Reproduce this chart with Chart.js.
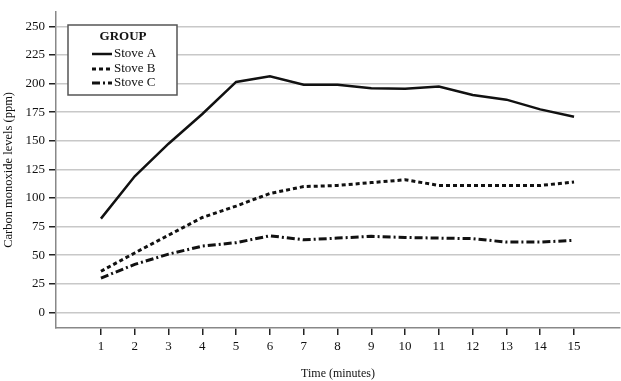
<!DOCTYPE html>
<html>
<head>
<meta charset="utf-8">
<script src="https://cdn.jsdelivr.net/npm/chart.js@4/dist/chart.umd.min.js"></script>
<style>
html,body{margin:0;padding:0;background:#fff;}
#wrap{width:621px;height:381px;position:relative;}
</style>
</head>
<body>
<div id="wrap"><canvas id="c" width="621" height="381"></canvas></div>
<script>
const minutes = [1,2,3,4,5,6,7,8,9,10,11,12,13,14,15];
const stoveA = [82,119,147.5,173.5,201.5,206.5,199,199,196,195.5,197.5,190,186,177.5,171];
const stoveB = [36,52,67.5,83,93,104,110,111,113.5,116,111,111,111,111,114];
const stoveC = [30,42,51,58,61,67,63.5,65,66.5,65.5,65,64.5,61.5,61.5,63];
const seriesNames = ['Stove A','Stove B','Stove C'];
const yTicks = [0,25,50,75,100,125,150,175,200,225,250];
const legendTitle = 'GROUP';

const FONT = "'Liberation Serif', 'Times New Roman', serif";

const toPts = arr => arr.map((v,i)=>({x:minutes[i], y:v}));

const legendPlugin = {
  id:'customLegend',
  afterDraw(chart){
    const ctx = chart.ctx;
    ctx.save();
    const x0=68, y0=25, w=109, h=70;
    ctx.fillStyle='#fff';
    ctx.fillRect(x0,y0,w,h);
    ctx.strokeStyle='#555';
    ctx.lineWidth=1.5;
    ctx.strokeRect(x0,y0,w,h);
    ctx.fillStyle='#111';
    ctx.font='bold 13px '+FONT;
    ctx.textAlign='center';
    ctx.textBaseline='middle';
    ctx.fillText(legendTitle, 123, 37);
    const ys=[54,69,83];
    chart.data.datasets.forEach((ds,i)=>{
      ctx.beginPath();
      ctx.strokeStyle=ds.borderColor;
      ctx.lineWidth=ds.borderWidth;
      ctx.setLineDash(ds.borderDash||[]);
      ctx.moveTo(92,ys[i]);
      ctx.lineTo(112,ys[i]);
      ctx.stroke();
      ctx.setLineDash([]);
      ctx.font='13px '+FONT;
      ctx.textAlign='left';
      ctx.fillStyle='#111';
      ctx.fillText(ds.label, 114, ys[i]);
    });
    ctx.restore();
  }
};

new Chart(document.getElementById('c'), {
  type:'line',
  data:{
    datasets:[
      {label:seriesNames[0], data:toPts(stoveA), borderColor:'#111', borderWidth:2.5, pointRadius:0, borderDash:[], tension:0},
      {label:seriesNames[1], data:toPts(stoveB), borderColor:'#111', borderWidth:3, pointRadius:0, borderDash:[4,3], tension:0},
      {label:seriesNames[2], data:toPts(stoveC), borderColor:'#111', borderWidth:3, pointRadius:0, borderDash:[8,3,2,3], tension:0}
    ]
  },
  options:{
    responsive:false,
    animation:false,
    layout:{padding:{top:3,right:1,left:0,bottom:0}},
    plugins:{legend:{display:false}, tooltip:{enabled:false}},
    scales:{
      x:{
        type:'linear',
        min:-0.33, max:16.36,
        afterBuildTicks(s){ s.ticks = minutes.map(v=>({value:v})); },
        afterFit(s){ s.height = 53; },
        grid:{drawOnChartArea:false, drawTicks:true, tickLength:7, tickColor:'#222', lineWidth:1.5},
        border:{display:true, color:'#888', width:1.5},
        ticks:{font:{family:FONT,size:13}, color:'#111', padding:4, maxRotation:0, autoSkip:false},
        title:{display:true, text:'Time (minutes)', font:{family:FONT,size:12}, color:'#111', padding:{top:6,bottom:0}}
      },
      y:{
        min:-13.6, max:262.8,
        afterBuildTicks(s){ s.ticks = yTicks.map(v=>({value:v})); },
        afterFit(s){ s.width = 56; },
        grid:{color:'#c8c8c8', lineWidth:1.5, drawTicks:true, tickLength:7, tickColor:'#222'},
        border:{display:true, color:'#888', width:1.5},
        ticks:{font:{family:FONT,size:13}, color:'#111', padding:4},
        title:{display:true, text:'Carbon monoxide levels (ppm)', font:{family:FONT,size:12.5}, color:'#111', padding:{top:1,bottom:2}}
      }
    }
  },
  plugins:[legendPlugin]
});
</script>
</body>
</html>
